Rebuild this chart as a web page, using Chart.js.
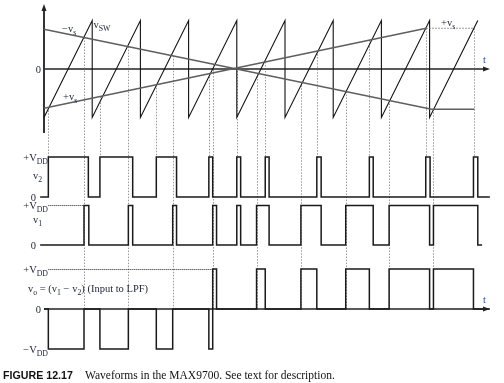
<!DOCTYPE html>
<html>
<head>
<meta charset="utf-8">
<script src="https://cdn.jsdelivr.net/npm/chart.js@4.4.1/dist/chart.umd.min.js"></script>
<style>
  html, body { margin: 0; padding: 0; background: #fff; }
  #wrap { width: 504px; height: 383px; }
</style>
</head>
<body>
<div id="wrap"><canvas id="chart" width="504" height="383"></canvas></div>
<script>
// time is in switching periods, t = 0 on the left axis
const sawtooth = [[0,-1],[1,1],[1,-1],[2,1],[2,-1],[3,1],[3,-1],[4,1],[4,-1],[5,1],[5,-1],[6,1],[6,-1],[7,1],[7,-1],[8,1],[8,-1],[9,1]]
const plusVs = [[0,-0.81],[7.93,0.84]]
const plusVsHold = [[7.93,0.84],[8.93,0.84]]
const minusVs = [[0,0.82],[8.04,-0.83],[8.93,-0.83]]

// [time, level] pairs, level holds until the next pair
const v2Steps = [[-0.08,0],[0.09,1],[0.92,0],[1.16,1],[1.84,0],[2.33,1],[2.75,0],[3.42,1],[3.5,0],[4.0,1],[4.08,0],[4.59,1],[4.67,0],[5.66,1],[5.75,0],[6.75,1],[6.83,0],[7.92,1],[8.01,0],[8.91,1],[9.0,0],[9.25,0]]
const v1Steps = [[-0.08,0],[0.83,1],[0.93,0],[1.75,1],[1.84,0],[2.67,1],[2.75,0],[3.5,1],[3.58,0],[4.0,1],[4.08,0],[4.41,1],[4.67,0],[5.33,1],[5.75,0],[6.26,1],[6.83,0],[7.16,1],[8.0,0],[8.08,1],[9.0,0],[9.09,0]]
const voSteps = [[0,0],[0.09,-1],[0.83,0],[1.16,-1],[1.75,0],[2.33,-1],[2.67,0],[3.42,-1],[3.5,1],[3.58,0],[4.41,1],[4.59,0],[5.33,1],[5.66,0],[6.26,1],[6.75,0],[7.16,1],[8.0,0],[8.08,1],[8.91,0],[9.25,0]]

// where the ramp meets -vs (v1 goes high) and +vs (v2 goes high)
const crossMinus = [0.83,1.75,2.67,3.5,4.41,5.33,6.26,7.16,8.08]
const crossPlus = [0.09,1.16,2.33,3.42,4.0,4.59,5.66,6.75,7.93,8.92]

const W = 504, H = 383
const originPx = 44, periodPx = 48.2
const tEnd = (490 - originPx) / periodPx

function panel(zeroPx, unitPx) {
    return { type: 'linear', display: false, min: -(H - zeroPx) / unitPx, max: zeroPx / unitPx }
}

const pts = arr => arr.map(([x, y]) => ({ x, y }))

function lerp(line, t) {
    for (let i = 1; i < line.length; i++) {
        const [x0, y0] = line[i - 1], [x1, y1] = line[i]
        if (t <= x1) return y0 + (y1 - y0) * (t - x0) / (x1 - x0)
    }
    return line[line.length - 1][1]
}
const plusLine = plusVs.concat(plusVsHold.slice(1))

const SERIF = '"Liberation Serif", "DejaVu Serif", serif'
const INK = '#1d2236'

function rich(ctx, parts, x, y, align, size) {
    size = size || 10.5
    const main = size + 'px ' + SERIF, sub = (size * 0.74).toFixed(1) + 'px ' + SERIF
    let w = 0
    parts.forEach(([s, isSub]) => { ctx.font = isSub ? sub : main; w += ctx.measureText(s).width })
    let cx = align === 'right' ? x - w : x
    parts.forEach(([s, isSub]) => {
        ctx.font = isSub ? sub : main
        ctx.fillText(s, cx, isSub ? y + 3 : y)
        cx += ctx.measureText(s).width
    })
}

function fitText(ctx, text, family, weight, width, x, y) {
    ctx.font = weight + ' 10px ' + family
    const size = 10 * width / ctx.measureText(text).width
    ctx.font = weight + ' ' + size.toFixed(2) + 'px ' + family
    ctx.fillText(text, x, y)
}

function arrowRight(ctx, x, y) {
    ctx.beginPath(); ctx.moveTo(x, y); ctx.lineTo(x - 7, y - 2.5); ctx.lineTo(x - 7, y + 2.5); ctx.closePath(); ctx.fill()
}
function arrowUp(ctx, x, y) {
    ctx.beginPath(); ctx.moveTo(x, y); ctx.lineTo(x - 2.5, y + 7); ctx.lineTo(x + 2.5, y + 7); ctx.closePath(); ctx.fill()
}

const figure = {
    id: 'figure',
    beforeDatasetsDraw(chart) {
        const { ctx, scales } = chart
        const X = scales.x, yTop = scales.yTop, yV2 = scales.yV2, yV1 = scales.yV1, yVo = scales.yVo
        ctx.save()
        // guide lines
        ctx.strokeStyle = '#999'
        ctx.lineWidth = 1
        ctx.setLineDash([1.5, 1.5])
        crossMinus.forEach(t => {
            const x = Math.round(X.getPixelForValue(t)) + 0.5
            ctx.beginPath()
            ctx.moveTo(x, yTop.getPixelForValue(lerp(minusVs, t)))
            ctx.lineTo(x, yVo.getPixelForValue(0))
            ctx.stroke()
        })
        crossPlus.forEach(t => {
            const x = Math.round(X.getPixelForValue(t)) + 0.5
            ctx.beginPath()
            ctx.moveTo(x, yTop.getPixelForValue(lerp(plusLine, t)))
            ctx.lineTo(x, yV2.getPixelForValue(1))
            ctx.stroke()
        })
        // dotted +VDD references
        ctx.strokeStyle = '#222'
        ctx.setLineDash([1, 1])
        const refStart = X.getPixelForValue(v2Steps[1][0])
        const v1High = v1Steps.find(s => s[1] === 1)[0]
        const voHigh = voSteps.find(s => s[1] === 1)[0]
        ctx.beginPath()
        ctx.moveTo(refStart, Math.round(yV1.getPixelForValue(1)) + 0.5)
        ctx.lineTo(X.getPixelForValue(v1High), Math.round(yV1.getPixelForValue(1)) + 0.5)
        ctx.moveTo(refStart, Math.round(yVo.getPixelForValue(1)) + 0.5)
        ctx.lineTo(X.getPixelForValue(voHigh), Math.round(yVo.getPixelForValue(1)) + 0.5)
        ctx.stroke()
        ctx.setLineDash([])
        // axes
        const x0 = X.getPixelForValue(0), xEnd = X.getPixelForValue(tEnd)
        ctx.strokeStyle = '#5a5a5a'
        ctx.lineWidth = 2
        ctx.beginPath()
        ctx.moveTo(x0, yTop.getPixelForValue(0)); ctx.lineTo(xEnd - 4, yTop.getPixelForValue(0))
        ctx.stroke()
        ctx.strokeStyle = '#333'
        ctx.beginPath()
        ctx.moveTo(x0, yTop.getPixelForValue(-1.32)); ctx.lineTo(x0, yTop.getPixelForValue(1.28))
        ctx.stroke()
        ctx.strokeStyle = '#222'
        ctx.lineWidth = 1.6
        ctx.beginPath()
        ctx.moveTo(x0, yVo.getPixelForValue(0)); ctx.lineTo(xEnd - 4, yVo.getPixelForValue(0))
        ctx.stroke()
        ctx.restore()
    },
    afterDatasetsDraw(chart) {
        const { ctx, scales } = chart
        const X = scales.x, yTop = scales.yTop, yV2 = scales.yV2, yV1 = scales.yV1, yVo = scales.yVo
        const x0 = X.getPixelForValue(0), xEnd = X.getPixelForValue(tEnd)
        ctx.save()
        ctx.fillStyle = '#222'
        arrowRight(ctx, xEnd, yTop.getPixelForValue(0))
        arrowRight(ctx, xEnd, yVo.getPixelForValue(0))
        arrowUp(ctx, x0, yTop.getPixelForValue(1.34))

        ctx.fillStyle = INK
        ctx.textBaseline = 'alphabetic'
        // top panel
        rich(ctx, [['0', false]], 41, yTop.getPixelForValue(0) + 3.5, 'right')
        rich(ctx, [['\u2212v', false], ['s', true]], 62, 32, 'left')
        rich(ctx, [['v', false], ['SW', true]], 93.5, 28, 'left')
        rich(ctx, [['+v', false], ['s', true]], 63, 100, 'left')
        rich(ctx, [['+v', false], ['s', true]], 441, 26, 'left')
        // v2, v1
        rich(ctx, [['+V', false], ['DD', true]], 48, yV2.getPixelForValue(1) + 3.5, 'right')
        rich(ctx, [['v', false], ['2', true]], 33, yV2.getPixelForValue(0.52) + 3, 'left')
        rich(ctx, [['0', false]], 36, yV2.getPixelForValue(0) + 3.5, 'right')
        rich(ctx, [['+V', false], ['DD', true]], 48, yV1.getPixelForValue(1) + 3.5, 'right')
        rich(ctx, [['v', false], ['1', true]], 33, yV1.getPixelForValue(0.64) + 3, 'left')
        rich(ctx, [['0', false]], 36, yV1.getPixelForValue(0) + 3.5, 'right')
        // vo
        rich(ctx, [['+V', false], ['DD', true]], 48, yVo.getPixelForValue(1) + 3.5, 'right')
        rich(ctx, [['v', false], ['o', true], [' = (', false], ['v', false], ['1', true], [' \u2212 ', false],
            ['v', false], ['2', true], [') (Input to LPF)', false]], 28, yVo.getPixelForValue(0.5) + 3, 'left')
        rich(ctx, [['0', false]], 41, yVo.getPixelForValue(0) + 3.5, 'right')
        rich(ctx, [['\u2212V', false], ['DD', true]], 48, yVo.getPixelForValue(-1) + 3.5, 'right')
        // t labels
        ctx.fillStyle = '#2c4f9a'
        rich(ctx, [['t', false]], 483, yTop.getPixelForValue(0) - 6, 'left')
        rich(ctx, [['t', false]], 483, yVo.getPixelForValue(0) - 6, 'left')
        // caption
        ctx.fillStyle = '#111'
        fitText(ctx, 'FIGURE 12.17', '"Liberation Sans", Arial, sans-serif', 'bold', 70, 3, 379)
        fitText(ctx, 'Waveforms in the MAX9700. See text for description.', SERIF, 'normal', 250, 85, 379)
        ctx.restore()
    }
}

const line = (data, yAxisID, color, width, extra) => Object.assign({
    data: pts(data), yAxisID, showLine: true, borderColor: color, borderWidth: width,
    pointRadius: 0, fill: false, tension: 0
}, extra || {})

new Chart(document.getElementById('chart'), {
    type: 'scatter',
    data: {
        datasets: [
            line(plusVs, 'yTop', '#5e5e5e', 1.4),
            line(plusVsHold, 'yTop', '#7a7a7a', 1.2, { borderDash: [1.5, 1.5] }),
            line(minusVs, 'yTop', '#5e5e5e', 1.4),
            line(sawtooth, 'yTop', '#111', 1.1),
            line(v2Steps, 'yV2', '#1a1a1a', 1.5, { stepped: true }),
            line(v1Steps, 'yV1', '#1a1a1a', 1.5, { stepped: true }),
            line(voSteps, 'yVo', '#1a1a1a', 1.5, { stepped: true })
        ]
    },
    options: {
        responsive: false,
        animation: false,
        devicePixelRatio: 1,
        layout: { padding: 0 },
        plugins: { legend: { display: false }, tooltip: { enabled: false }, title: { display: false } },
        scales: {
            x: { type: 'linear', display: false, min: -originPx / periodPx, max: (W - originPx) / periodPx },
            yTop: panel(69, 48.5),
            yV2: panel(197, 40),
            yV1: panel(245, 39.5),
            yVo: panel(309, 40)
        }
    },
    plugins: [figure]
})
</script>
</body>
</html>
